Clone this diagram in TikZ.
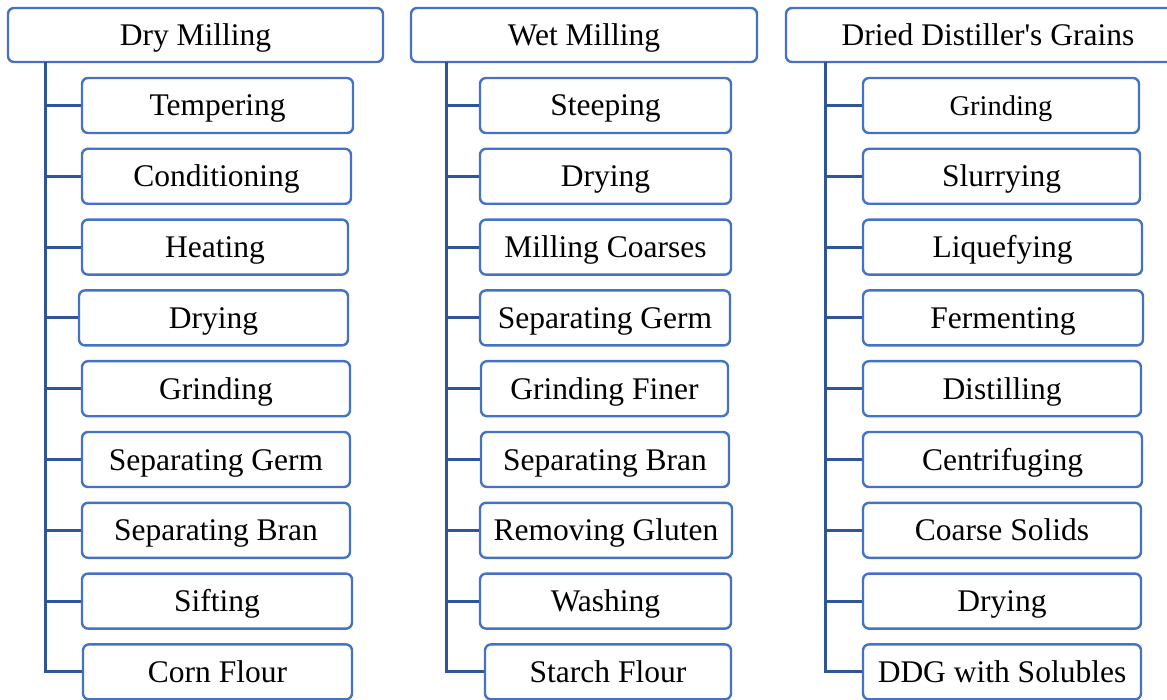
\documentclass[tikz,border=0pt]{standalone}
\usepackage{fontspec}
\setmainfont{Liberation Serif}[Ligatures=TeXOff]
\usetikzlibrary{positioning}
\definecolor{boxblue}{HTML}{4472C4}
\definecolor{linkblue}{HTML}{2F5597}
\tikzset{every picture/.style={/utils/exec={\fontsize{31.5}{36}\selectfont}}}
\tikzset{stage/.style={draw=boxblue,line width=2.4pt,rounded corners=6pt,fill=white,minimum height=55pt,inner sep=0pt,align=center,text height=21pt,text depth=0pt}}
\tikzset{head/.style={stage,minimum height=54pt}}
\tikzset{link/.style={draw=linkblue,line width=3pt}}

\begin{document}
\begin{tikzpicture}[x=1pt,y=-1pt]
    \useasboundingbox (0,0) rectangle (1167,700);
    \clip (0,0) rectangle (1167,700);
    % dry milling
    \node [head,minimum width=375pt] (dm) at (195.5,35) {Dry Milling};
    \node [stage,minimum width=271pt] (dm1) at (217.5,105.5) {Tempering};
    \node [stage,minimum width=269pt] (dm2) at (216.5,176.3) {Conditioning};
    \node [stage,minimum width=266pt] (dm3) at (215,247.1) {Heating};
    \node [stage,minimum width=269pt] (dm4) at (213.5,317.9) {Drying};
    \node [stage,minimum width=268pt] (dm5) at (216,388.7) {Grinding};
    \node [stage,minimum width=268pt] (dm6) at (216,459.5) {Separating Germ};
    \node [stage,minimum width=268pt] (dm7) at (216,530.3) {Separating Bran};
    \node [stage,minimum width=270pt] (dm8) at (217,601.1) {Sifting};
    \node [stage,minimum width=269pt] (dm9) at (217.5,671.9) {Corn Flour};
    \coordinate (dmx) at (45,62);
    \draw [link] (dmx) |- (dm9.west);
    \foreach \i in {1,...,8}
        \draw [link] (dmx |- dm\i.west) -- (dm\i.west);
    % wet milling
    \node [head,minimum width=346pt] (wm) at (584,35) {Wet Milling};
    \node [stage,minimum width=251pt] (wm1) at (605.5,105.5) {Steeping};
    \node [stage,minimum width=251pt] (wm2) at (605.5,176.3) {Drying};
    \node [stage,minimum width=251pt] (wm3) at (605.5,247.1) {Milling Coarses};
    \node [stage,minimum width=250pt] (wm4) at (605,317.9) {Separating Germ};
    \node [stage,minimum width=247pt] (wm5) at (604.5,388.7) {Grinding Finer};
    \node [stage,minimum width=248pt] (wm6) at (605,459.5) {Separating Bran};
    \node [stage,minimum width=252pt] (wm7) at (606,530.3) {Removing Gluten};
    \node [stage,minimum width=251pt] (wm8) at (605.5,601.1) {Washing};
    \node [stage,minimum width=246pt] (wm9) at (608,671.9) {Starch Flour};
    \coordinate (wmx) at (446,62);
    \draw [link] (wmx) |- (wm9.west);
    \foreach \i in {1,...,8}
        \draw [link] (wmx |- wm\i.west) -- (wm\i.west);
    % dried distiller's grains
    \node [head,minimum width=404pt] (dg) at (988,35) {Dried Distiller's Grains};
    \node [stage,minimum width=276pt] (dg1) at (1001,105.5) {\fontsize{28.5}{33}\selectfont Grinding};
    \node [stage,minimum width=277pt] (dg2) at (1001.5,176.3) {Slurrying};
    \node [stage,minimum width=279pt] (dg3) at (1002.5,247.1) {Liquefying};
    \node [stage,minimum width=280pt] (dg4) at (1003,317.9) {Fermenting};
    \node [stage,minimum width=278pt] (dg5) at (1002,388.7) {Distilling};
    \node [stage,minimum width=279pt] (dg6) at (1002.5,459.5) {Centrifuging};
    \node [stage,minimum width=278pt] (dg7) at (1002,530.3) {Coarse Solids};
    \node [stage,minimum width=278pt] (dg8) at (1002,601.1) {Drying};
    \node [stage,minimum width=278pt] (dg9) at (1002,671.9) {DDG with Solubles};
    \coordinate (dgx) at (825,62);
    \draw [link] (dgx) |- (dg9.west);
    \foreach \i in {1,...,8}
        \draw [link] (dgx |- dg\i.west) -- (dg\i.west);
\end{tikzpicture}
\end{document}
